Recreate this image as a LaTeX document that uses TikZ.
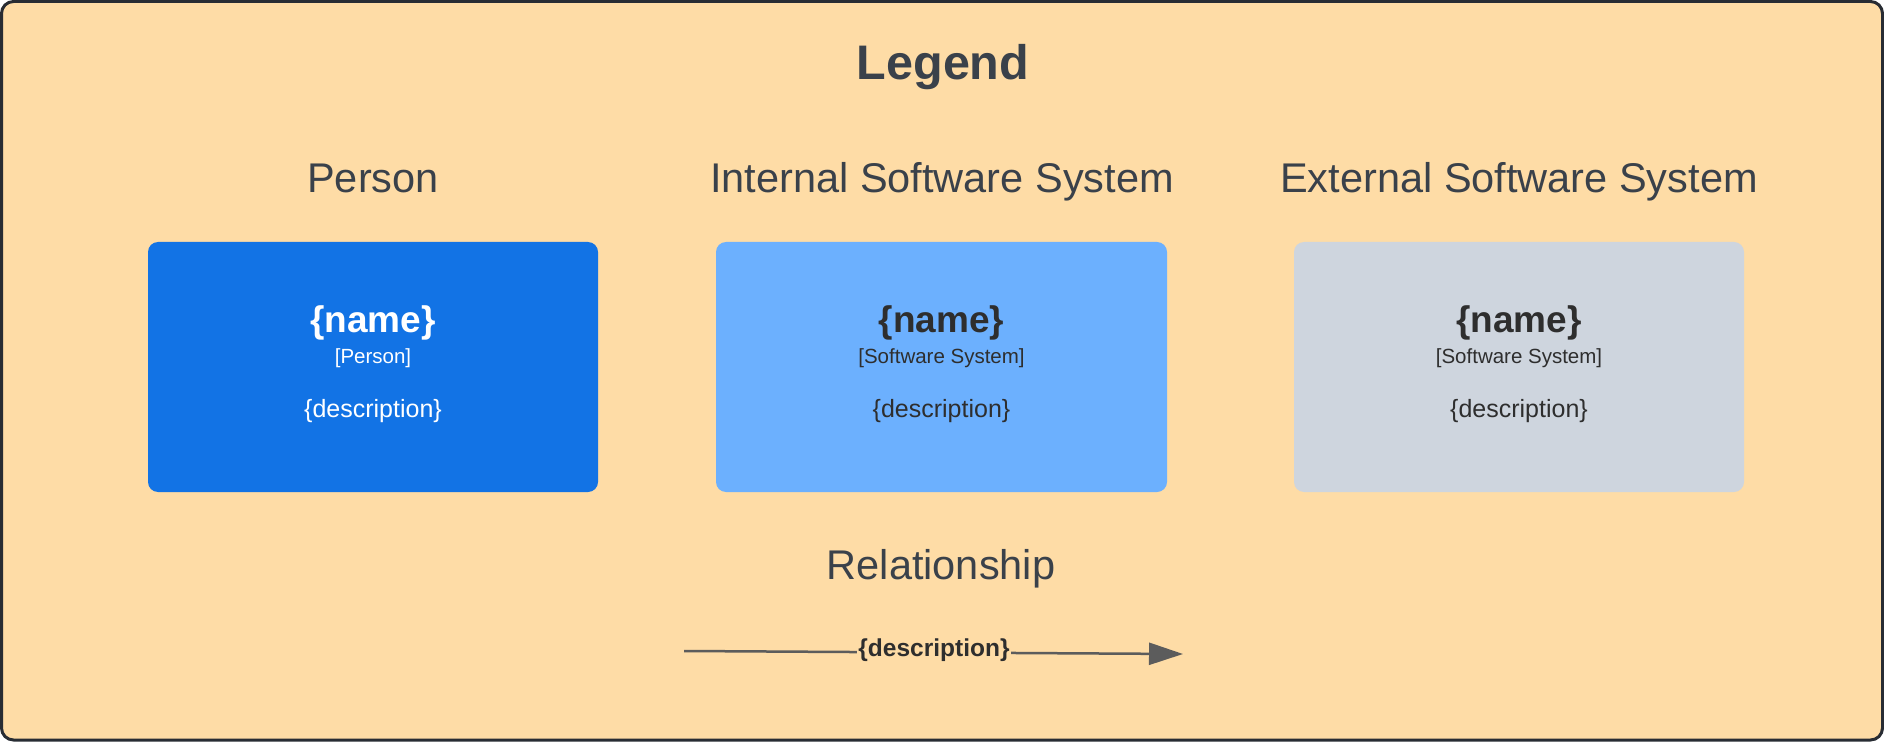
\documentclass[tikz,border=0pt]{standalone}
\usepackage{fontspec}
\setmainfont{Liberation Sans}
\usetikzlibrary{arrows.meta}
\definecolor{bgc}{HTML}{FEDCA6}
\definecolor{framec}{HTML}{282C33}
\definecolor{headc}{HTML}{3A414A}
\definecolor{personc}{HTML}{1273E5}
\definecolor{internc}{HTML}{6CB0FE}
\definecolor{externc}{HTML}{CED5DE}
\definecolor{darktext}{HTML}{2E2E2E}
\definecolor{arrowc}{HTML}{5C5C5C}
\tikzset{
  boxstyle/.style={rounded corners=10pt, draw=none},
  headtext/.style={anchor=base, inner sep=0pt, text=headc, font=\fontsize{41.5}{48}\selectfont},
  nametext/.style={anchor=base, inner sep=0pt, font=\fontsize{37}{44}\selectfont\bfseries},
  typetext/.style={anchor=base, inner sep=0pt, font=\fontsize{20.5}{24}\selectfont},
  desctext/.style={anchor=base, inner sep=0pt, font=\fontsize{25}{30}\selectfont},
}
\begin{document}
\begin{tikzpicture}[x=1pt,y=-1pt]
\useasboundingbox (0,0) rectangle (1884,743);
% frame
\draw[fill=bgc, draw=framec, line width=3pt, rounded corners=12pt] (1.5,1.5) rectangle (1882.5,740);
% title
\node[anchor=base, inner sep=0pt, text=headc, font=\fontsize{48.5}{56}\selectfont\bfseries] (title) at (943,80) {Legend};
% headers
\node[headtext] (hperson) at (373,193) {Person};
\node[headtext] (hintern) at (942,193) {Internal Software System};
\node[headtext] (hextern) at (1519,193) {External Software System};
% boxes
\fill[boxstyle, personc] (148,242) rectangle (598,492);
\fill[boxstyle, internc] (716,242) rectangle (1167,492);
\fill[boxstyle, externc] (1294,242) rectangle (1744,492);
\node[boxstyle, minimum width=450pt, minimum height=250pt] (bperson) at (373,367) {};
\node[boxstyle, minimum width=451pt, minimum height=250pt] (bintern) at (941.5,367) {};
\node[boxstyle, minimum width=450pt, minimum height=250pt] (bextern) at (1519,367) {};
% person texts
\node[nametext, text=white] (pname) at (373,332) {\{name\}};
\node[typetext, text=white] (ptype) at (373,363) {[Person]};
\node[desctext, text=white] (pdesc) at (373,417) {\{description\}};
% internal texts
\node[nametext, text=darktext] (iname) at (941.5,332) {\{name\}};
\node[typetext, text=darktext] (itype) at (941.5,363) {[Software System]};
\node[desctext, text=darktext] (idesc) at (941.5,417) {\{description\}};
% external texts
\node[nametext, text=darktext] (ename) at (1519,332) {\{name\}};
\node[typetext, text=darktext] (etype) at (1519,363) {[Software System]};
\node[desctext, text=darktext] (edesc) at (1519,417) {\{description\}};
% relationship
\node[headtext] (hrel) at (941,579) {Relationship};
\coordinate (rs) at (684,651);
\coordinate (re) at (1183,654);
\draw[arrowc, line width=2.5pt, -{Triangle[length=34pt,width=22pt]}] (rs) -- (re);
\node[fill=bgc, inner xsep=1pt, inner ysep=3pt, text=darktext, font=\fontsize{24.5}{28}\selectfont\bfseries] (rlabel) at (934,650) {\{description\}};
\end{tikzpicture}
\end{document}
